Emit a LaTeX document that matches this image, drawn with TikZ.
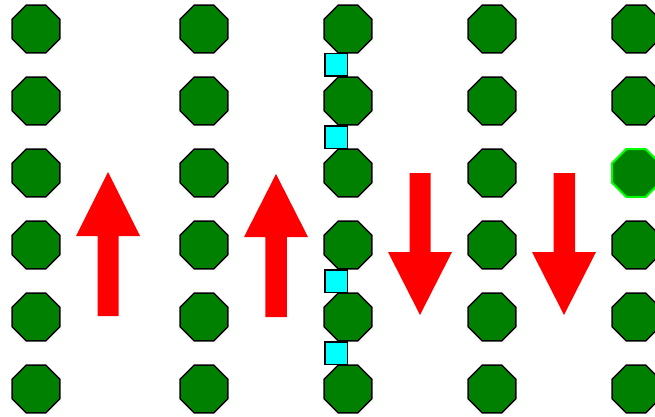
\documentclass[tikz,border=0pt]{standalone}
\usetikzlibrary{shapes.geometric}
\definecolor{octgreen}{RGB}{0,128,0}
\definecolor{brightgreen}{RGB}{0,255,0}
\definecolor{sqcyan}{RGB}{0,255,255}
\definecolor{arrred}{RGB}{255,0,0}
\tikzset{
  oct/.style={regular polygon, regular polygon sides=8, minimum size=51.5pt, inner sep=0pt, outer sep=0pt, fill=octgreen, draw=black, line width=1.5pt},
  octhi/.style={oct, draw=brightgreen, line width=2pt},
  sq/.style={rectangle, minimum size=22.5pt, inner sep=0pt, outer sep=0pt, fill=sqcyan, draw=black, line width=1.5pt},
  bigarrow/.style={fill=arrred}
}
\begin{document}
\begin{tikzpicture}[x=1pt,y=-1pt]
\useasboundingbox (0,0) rectangle (655,417);
% octagons
\foreach \c/\x in {1/36,2/204,3/348,4/492,5/636}{
  \foreach \r/\y in {1/29,2/101,3/173,4/245,5/317,6/389}{
    \ifnum\c=5 \ifnum\r=3 \else
      \node[oct] (o\c\r) at (\x,\y) {};
    \fi\else
      \node[oct] (o\c\r) at (\x,\y) {};
    \fi
  }
}
\node[octhi] (o53) at (636,173) {};
% cyan squares
\node[sq] (s1) at (336,65) {};
\node[sq] (s2) at (336,137) {};
\node[sq] (s3) at (336,281) {};
\node[sq] (s4) at (336,353) {};
% arrows
\fill[bigarrow] (108,172) -- (140,236) -- (118.5,236) -- (118.5,316) -- (97.5,316) -- (97.5,236) -- (76,236) -- cycle;
\fill[bigarrow] (276,174) -- (308,237) -- (286.75,237) -- (286.75,317) -- (265.25,317) -- (265.25,237) -- (244,237) -- cycle;
\fill[bigarrow] (420,315) -- (452,252) -- (430.5,252) -- (430.5,173) -- (409.5,173) -- (409.5,252) -- (388,252) -- cycle;
\fill[bigarrow] (564,315) -- (596,252) -- (575,252) -- (575,173) -- (553.5,173) -- (553.5,252) -- (532,252) -- cycle;
\end{tikzpicture}
\end{document}
